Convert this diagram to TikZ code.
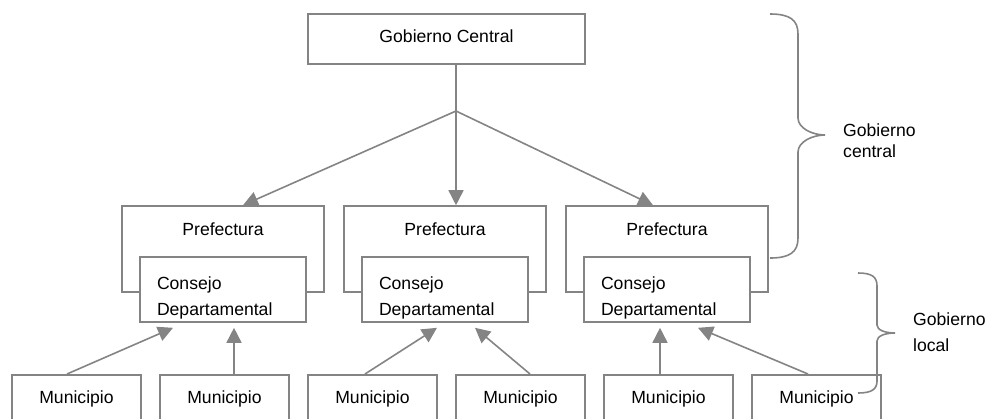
\documentclass[tikz,border=0pt]{standalone}
\usepackage{fontspec}
\setmainfont{Liberation Sans}
\usepackage{tikz}
\usetikzlibrary{arrows.meta}

\definecolor{linegray}{RGB}{132,132,132}

\begin{document}
\begin{tikzpicture}[x=1pt, y=-1pt,
		every node/.style={font=\fontsize{17.6}{26}\selectfont},
		box/.style={draw=linegray, line width=1.6pt, fill=white, inner xsep=0pt, inner ysep=0pt},
		topbox/.style={box, minimum width=277pt, text height=28pt, text depth=22pt},
		prefbox/.style={box, minimum width=202pt, text height=29pt, text depth=57pt},
		consbox/.style={box, minimum width=166pt, text width=132pt, align=left, text height=32pt, text depth=33pt},
		munbox/.style={box, anchor=north, minimum width=129pt, text height=29pt, text depth=60pt},
		link/.style={draw=linegray, line width=1.6pt},
		arrow/.style={link, -{Triangle[length=15pt, width=15pt]}},
		bracelabel/.style={anchor=base west, align=left, inner sep=0pt}
	]

				\useasboundingbox (0, 0) rectangle (987, 418);
				\clip (0, 0) rectangle (987, 418);

				% gobierno central
				\node[topbox] (top) at (446.5, 39) {Gobierno Central};
				\coordinate (junc) at (456, 111);

				\node[prefbox] (pref1) at (223, 249) {Prefectura};
				\node[prefbox] (pref2) at (445, 249) {Prefectura};
				\node[prefbox] (pref3) at (667, 249) {Prefectura};

				\node[consbox] (cons1) at (223, 289.5) {Consejo\\Departamental};
				\node[consbox] (cons2) at (445, 289.5) {Consejo\\Departamental};
				\node[consbox] (cons3) at (667, 289.5) {Consejo\\Departamental};

				% municipios
				\node[munbox] (mun1) at (76.5, 374)  {Municipio};
				\node[munbox] (mun2) at (224.5, 374) {Municipio};
				\node[munbox] (mun3) at (372.5, 374) {Municipio};
				\node[munbox] (mun4) at (520.5, 374) {Municipio};
				\node[munbox] (mun5) at (668.5, 374) {Municipio};
				\node[munbox] (mun6) at (816.5, 374) {Municipio};

				\draw[link]  ([xshift=9.5]top.south) -- (junc);
				\draw[arrow] (junc) -- ([xshift=20]pref1.north);
				\draw[arrow] (junc) -- ([xshift=11]pref2.north);
				\draw[arrow] (junc) -- ([xshift=-14]pref3.north);

				\draw[arrow] ([xshift=-9.5]mun1.north) -- ([xshift=-50, yshift=-5]cons1.south);
				\draw[arrow] ([xshift=9.5]mun2.north)  -- ([xshift=11, yshift=-5]cons1.south);
				\draw[arrow] ([xshift=-7.5]mun3.north) -- ([xshift=-8, yshift=-5]cons2.south);
				\draw[arrow] ([xshift=9.5]mun4.north)  -- ([xshift=30, yshift=-5]cons2.south);
				\draw[arrow] ([xshift=-8.5]mun5.north) -- ([xshift=-7, yshift=-5]cons3.south);
				\draw[arrow] ([xshift=-8.5]mun6.north) -- ([xshift=31, yshift=-5]cons3.south);

				% llaves
				\draw[link] (770, 14) .. controls (790, 14) and (798, 20) .. (798, 34) -- (798, 118)
					.. controls (798, 128) and (812, 135) .. (825, 135)
					.. controls (812, 135) and (798, 142) .. (798, 152) -- (798, 238)
					.. controls (798, 252) and (790, 258) .. (770, 258);
				\node[bracelabel, font=\fontsize{17.6}{20.5}\selectfont] (lblcentral) at (843, 157) {Gobierno\\central};

				\draw[link] (858, 273) .. controls (872, 273) and (877, 277) .. (877, 286) -- (877, 325)
					.. controls (877, 330) and (885, 333) .. (895, 333)
					.. controls (885, 333) and (877, 336) .. (877, 341) -- (877, 381)
					.. controls (877, 389) and (872, 393) .. (858, 393);
				\node[bracelabel] (lbllocal) at (913, 351) {Gobierno\\local};

			\end{tikzpicture}
\end{document}
